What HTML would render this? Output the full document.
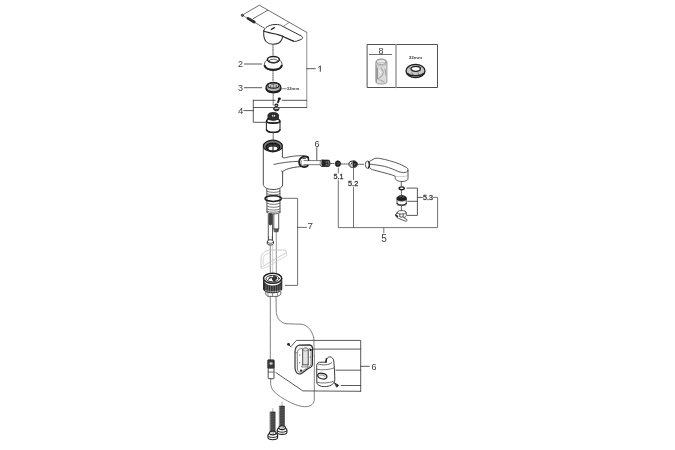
<!DOCTYPE html>
<html><head><meta charset="utf-8">
<style>
html,body{margin:0;padding:0;background:#fff;width:675px;height:450px;overflow:hidden}
svg{display:block;will-change:transform}
text{font-family:"Liberation Sans",sans-serif;fill:#3a3a3a}
</style></head>
<body>
<svg width="675" height="450" viewBox="0 0 675 450">
<g fill="none" stroke="#3c3c3c" stroke-width="0.85" stroke-linecap="round" stroke-linejoin="round">

<!-- ===== Part 1 handle ===== -->
<circle cx="242.4" cy="15.3" r="1.1" fill="#888" stroke="#222" stroke-width="0.9"/>
<path d="M243.6 16.1 L247.3 18.2" stroke="#555" stroke-width="0.7"/>
<path d="M243.8 14.2 L259.3 5.2 L306.8 32.4" stroke="#555"/>
<path d="M306.8 32.4 L306.8 107.4" stroke="#858585" stroke-width="0.9"/>
<path d="M253.1 18.7 L267.8 10.2" stroke="#555"/>
<path d="M248 18.4 L254.2 22" stroke="#222" stroke-width="2.7"/>
<path d="M248.5 18.3 L253.5 21.3" stroke="#555" stroke-width="0.5" stroke-dasharray="0.6 0.6"/>
<path d="M254.4 22.2 L264.7 28.4" stroke-dasharray="1.5 1"/>
<!-- handle body -->
<path d="M263.6 31 C264.5 27.5 269 24.8 275 24.5 C278.5 24.4 280.5 25 281.7 25.8 L301.3 36 C303 37 302.9 38.4 301.3 39.4 L296.5 41.2 C295.3 41.6 294.3 41.5 293.3 41.1" stroke="#333" stroke-width="1"/>
<path d="M263.6 31 C267 32.5 273 33.3 280.2 35.3 L293.3 41.1" stroke="#222" stroke-width="1.2"/>
<path d="M263.8 31.5 C263.4 35.5 264 39 266 41.5 C268 43.5 270.5 44.3 273 44.3 C277 44.2 280.8 42.2 282 39 C282.5 37.5 282.6 36.5 282.4 35.8" stroke="#333" stroke-width="1.05"/>
<path d="M271.3 29.5 L274.3 27.6" stroke="#222" stroke-width="1.3"/>
<path d="M283.3 26.5 L288.9 22.6" stroke="#666" stroke-width="0.7"/>
<path d="M273 45 L273 56" stroke-dasharray="1.2 1"/>

<!-- ===== Part 2 ring ===== -->
<path d="M267.5 59.5 C265.5 60.8 264.4 62.5 264.4 64.5 C264.6 68 268 70.2 273.2 70.2 C278.4 70.2 281.8 68 282 64.5 C282 62.5 281 60.8 279 59.5"/>
<path d="M264.7 65.8 C265.5 68.4 269 69.8 273.2 69.8 C277.4 69.8 280.9 68.4 281.7 65.8" stroke="#1e1e1e" stroke-width="2.2"/>
<ellipse cx="273.4" cy="59.6" rx="6" ry="3.1" stroke="#1e1e1e" stroke-width="1.5"/>
<ellipse cx="273.3" cy="61" rx="4.2" ry="1.8" stroke="#444" stroke-width="0.8"/>
<path d="M273 70.5 L273 81" stroke-dasharray="1.2 1"/>

<!-- ===== Part 3 ring ===== -->
<path d="M266 87.5 C266 90.8 269 92.6 273.4 92.6 C277.8 92.6 280.9 90.8 280.9 87.5 C280.9 84.5 277.8 82.3 273.4 82.3 C269 82.3 266 84.5 266 87.5 Z" fill="#9a9a9a" stroke="#1e1e1e" stroke-width="1.3"/>
<path d="M266.5 88.8 C267.5 91.3 270 92.2 273.4 92.2 C276.8 92.2 279.5 91.3 280.4 88.8" stroke="#1e1e1e" stroke-width="2"/>
<ellipse cx="273.4" cy="85.6" rx="5.6" ry="2.6" fill="#d0d0d0" stroke="#222" stroke-width="1.1"/>
<ellipse cx="273.4" cy="86" rx="3.2" ry="1.4" fill="#f4f4f4" stroke="#444" stroke-width="0.7"/>
<path d="M273.3 84.3 L273.3 87.5" stroke="#444" stroke-width="0.7"/>
<path d="M267.5 89 C269.5 90.2 277 90.2 279.3 89" stroke="#ddd" stroke-width="0.7"/>
<path d="M281.5 88.7 L286.3 88.7" stroke="#777"/>


<!-- ===== Part 4 ===== -->
<path d="M273.2 92.8 L273.2 105.3" stroke="#444" stroke-width="0.8" stroke-dasharray="1.2 1"/>
<path d="M279.3 98.8 L278 102.3" stroke="#1e1e1e" stroke-width="1.9" stroke-dasharray="0.9 0.5"/>
<ellipse cx="279.3" cy="98.8" rx="1.6" ry="1.3" fill="#1e1e1e" stroke="none"/>
<ellipse cx="276.4" cy="105.2" rx="1.5" ry="1.1" stroke="#1e1e1e" stroke-width="1.1"/>
<path d="M273.8 108 L275 106.9 L277.8 106.9 L279 108.2 L278.5 110.2 L276.8 110.8 L274.8 110.6 L273.8 109.5 Z" fill="#444" stroke="#1e1e1e" stroke-width="1"/>
<path d="M275.2 108.3 L278 108.3" stroke="#fff" stroke-width="0.9"/>
<!-- cartridge -->
<path d="M266.4 121 L266.4 130.6 C266.8 132 269.5 132.6 273.2 132.6 C276.9 132.6 279.6 132 280 130.6 L280 121" stroke="#1e1e1e" stroke-width="1"/>
<path d="M266.6 129.8 C267.5 131.8 270 132.3 273.2 132.3 C276.4 132.3 279 131.8 279.8 129.8" stroke="#1e1e1e" stroke-width="1.5"/>
<path d="M266.5 121.3 C266.5 119.5 269.5 118.5 273.2 118.5 C276.9 118.5 279.9 119.5 279.9 121.3 C279.9 122.6 276.9 123.3 273.2 123.3 C269.5 123.3 266.5 122.6 266.5 121.3 Z" fill="#fff" stroke="#1e1e1e" stroke-width="1.4"/>
<path d="M266.8 122 C268.5 123.3 278 123.3 279.6 122" stroke="#1e1e1e" stroke-width="1.4"/>
<path d="M268 118.5 L268 114.8 C268.5 113.3 270.5 112.6 273.2 112.6 C275.9 112.6 277.9 113.3 278.4 114.8 L278.4 118.5 C277.5 120 275.5 120.6 273.2 120.6 C270.9 120.6 268.9 120 268 118.5 Z" fill="#2e2e2e" stroke="#1e1e1e" stroke-width="0.9"/>
<ellipse cx="273.6" cy="115.8" rx="1.8" ry="1.1" fill="#ddd" stroke="none"/>
<path d="M273.5 114.6 L273.5 117.2" stroke="#333" stroke-width="0.7"/>
<path d="M269.5 120.5 C271 121.7 275.5 121.7 277 120.5" stroke="#eee" stroke-width="0.8"/>
<path d="M273.2 132.8 L273.2 139.8" stroke="#555"/>

<!-- bracket 1 / 4 lines -->
<path d="M253.3 100.3 L275.3 100.3 M282.3 100.3 L306.7 100.3"/>
<path d="M253.3 107.5 L273.5 107.5 M279 107.5 L306.7 107.5"/>
<path d="M253.3 100.3 L253.3 122.3 L266 122.3"/>
<path d="M243.8 110.6 L253.3 110.6"/>
<path d="M244.3 64 L261.7 64"/>
<path d="M244.3 87.7 L261.7 87.7"/>
<path d="M306.7 68.7 L315.3 68.7"/>

<!-- ===== Faucet body ===== -->
<path d="M263.3 146.5 L263.3 184.4 C263.8 187.8 268 189.5 273 189.5 C278 189.5 282.2 187.8 282.6 185 L282.6 172 C282.4 171.2 282 170.8 281.5 171 M282.6 171.6 C285 169.5 290 167.5 300.7 166.6 M282.4 157 L282.4 146.5" stroke="#383838" stroke-width="0.9"/>
<path d="M282.3 156.5 C282.5 157.8 283.5 158.2 285 157.8 C290 156.5 296 155.6 304.2 155.6"/>
<path d="M274 164.4 C281 162.8 290 161.5 299 161.3"/>
<ellipse cx="272.85" cy="146" rx="9.5" ry="5.8" fill="#777" stroke="#1e1e1e" stroke-width="1.2"/>
<ellipse cx="272.9" cy="147" rx="6.9" ry="3.9" fill="#333" stroke="#151515" stroke-width="1.2"/>
<ellipse cx="273" cy="148.4" rx="4.4" ry="1.9" fill="#fff" stroke="none"/>
<path d="M273 144.5 L273 150.5" stroke="#222" stroke-width="1.1"/>
<path d="M304 160.6 L320.5 160.6 M304 164.7 L320.5 164.7" stroke="#555" stroke-width="0.8"/>
<path d="M308 157.3 C306 156 302 156.3 300.2 158.8 C298.6 161 298.8 164.3 300.8 166 C302.8 167.4 306 167.3 307.8 165.6" stroke="#1e1e1e" stroke-width="1.9"/>
<path d="M308.2 157.5 L308.6 160.2" stroke="#1e1e1e" stroke-width="1.5"/>
<path d="M302.5 158.3 L305.5 158.6 M302.5 166 L305.3 165.8" stroke="#333" stroke-width="0.9"/>
<path d="M301.5 160.8 C301 162 301 163.3 301.6 164.5" stroke="#555" stroke-width="0.7"/>
<path d="M316.8 147.5 L316.8 160"/>
<!-- neck & threads -->
<path d="M266.8 188.8 L267 212.5 M279.9 188.8 L280 212.5 M267 212.5 C269 214.5 278 214.5 280 212.5"/>
<path d="M267 191.3 C270 192.8 277 192.8 280 191.3 M267 193.8 C270 195.3 277 195.3 280 193.8 M267 203.3 C270 204.8 277 204.8 280 203.3 M267 206.2 C270 207.7 277 207.7 280 206.2 M267 209 C270 210.5 277 210.5 280 209 M267 211.3 C270 212.6 277 212.6 280 211.3" stroke="#4a4a4a" stroke-width="0.75"/>
<ellipse cx="273.2" cy="198.6" rx="8.2" ry="2.8" stroke="#1e1e1e" stroke-width="1.5"/>
<!-- rods -->
<path d="M268.3 214.5 L268.3 240 M272.5 214.5 L272.5 240"/>
<path d="M270.4 214.5 L270.4 223.6" stroke="#444" stroke-width="3.6" stroke-dasharray="0.9 0.6"/>
<path d="M273.8 214 L273.8 229 M278.7 214 L278.7 229 M273.8 229 L278.7 229"/>
<rect x="274.4" y="229.2" width="3.8" height="2.6" fill="#555" stroke="#333" stroke-width="0.6"/>
<path d="M268.6 236.5 L268.6 239.5 M272.3 236.5 L272.3 239.5" stroke="#444" stroke-width="0.7"/>
<path d="M267.3 241.5 C267.3 240.3 268.8 239.8 270.3 239.8 C271.8 239.8 273.4 240.3 273.4 241.5 L273.4 243.6 C273.2 244.6 272 245 270.3 245 C268.6 245 267.5 244.6 267.3 243.6 Z" fill="#fff" stroke="#1e1e1e" stroke-width="1"/>
<path d="M268.3 242.8 C269.5 243.6 271.5 243.6 272.5 242.6" stroke="#333" stroke-width="0.8"/>
<path d="M270.3 245.8 L270.3 273.5" stroke="#555" stroke-width="0.7"/>
<path d="M272.7 245.8 L272.7 273.5" stroke="#999" stroke-width="0.5" stroke-dasharray="2 1"/>
<path d="M276.3 232 L276.3 273.5" stroke="#666" stroke-width="0.7" stroke-dasharray="3 0.8"/>
<!-- faint bracket piece -->
<path d="M261 267 L261 259 C261 254 264.5 250.5 270 250 L285.5 250 L286.5 252.5 L271 261.5 L262 267 Z" stroke="#c0c0c0" stroke-width="0.8"/>
<path d="M263.2 264.5 L263.2 259 C263.5 255.5 266 253.2 270 252.8 M286.5 252.5 L286.8 255.5 L271.5 264.5 L262 269 L261 267" stroke="#c8c8c8" stroke-width="0.7"/>
<!-- nut part 7 -->
<path d="M263.5 279 L263.5 289 C264 291.5 267.5 292.8 272.6 292.8 C277.7 292.8 281.3 291.5 281.8 289 L281.8 279" fill="#2e2e2e" stroke="#1e1e1e" stroke-width="0.9"/>
<path d="M263.8 280.5 C265 284.5 269 285.5 272.6 285.5 C276.2 285.5 280.3 284.5 281.5 280.5 L281.5 278 L263.8 278 Z" fill="#fff" stroke="none"/>
<path d="M266 285 L266 291 M268.3 285.8 L268.3 292 M270.6 286 L270.6 292.3 M273 286 L273 292.5 M275.4 286 L275.4 292.3 M277.7 285.8 L277.7 292 M280 285 L280 291" stroke="#8a8a8a" stroke-width="0.7"/>
<ellipse cx="272.6" cy="278.3" rx="9.1" ry="5" fill="#fff" stroke="#1e1e1e" stroke-width="1.5"/>
<ellipse cx="272.6" cy="278.6" rx="6.6" ry="3.2" stroke="#2a2a2a" stroke-width="1"/>
<path d="M268.5 279.5 C269.5 277 271 276.5 272 277.8 L273 280.5 C274.5 281 276.5 280 277 278 C276 276.5 274 276.3 273 277" fill="#333" stroke="#222" stroke-width="0.9"/>
<path d="M265.8 292 L265.8 294.5 L268 296.4 L277.5 296.4 L280.8 294.5 L280.8 292" stroke="#444" stroke-width="0.8"/>
<path d="M268 293 L268 296.3 M272.5 293.2 L272.5 296.3 M277.5 293 L277.5 296.3" stroke="#555" stroke-width="0.6"/>
<path d="M265.5 290.5 C268 291.8 277 291.8 281 290.5" stroke="#ddd" stroke-width="0.6" stroke-dasharray="1 1"/>
<!-- bracket 7 -->
<path d="M281.3 198.3 L297.6 198.3 L297.6 285.4 L285.3 285.4 M297.6 227.4 L306.5 227.4" stroke="#555"/>

<!-- ===== hose connectors & shower ===== -->
<rect x="320.3" y="160.1" width="9.6" height="6.4" rx="1.8" fill="#262626" stroke="#1e1e1e" stroke-width="0.8"/>
<path d="M321.2 161 C320.6 162.3 320.6 164.5 321.2 165.6" stroke="#e8e8e8" stroke-width="1.1"/>
<ellipse cx="326.7" cy="162" rx="1" ry="0.8" fill="#e0e0e0"/>
<ellipse cx="326.7" cy="164.8" rx="1" ry="0.8" fill="#d8d8d8"/>
<path d="M328.3 161.3 C329.2 162.3 329.2 164.5 328.3 165.4" stroke="#bbb" stroke-width="0.6"/>
<path d="M330.5 163.5 L333.8 163.5 M341.5 164 L348.5 164 M358 164.3 L364 164.3" stroke-dasharray="1.2 1"/>
<ellipse cx="337.9" cy="163.7" rx="2.7" ry="2.9" fill="#222" stroke="#1e1e1e" stroke-width="0.7"/>
<ellipse cx="338.2" cy="163.5" rx="0.9" ry="1.1" stroke="#666" stroke-width="0.5"/>
<path d="M352.5 161 C350 161 348.9 162.5 348.9 164.1 C348.9 165.8 350 167.3 352.5 167.3 L354.5 167.3 C356.3 167.3 357.3 165.8 357.3 164.1 C357.3 162.5 356.3 161 354.5 161 Z" fill="#fff" stroke="#1e1e1e" stroke-width="1"/>
<path d="M353.3 161.3 C355.8 161.2 357 162.5 357 164.1 C357 165.8 355.8 167 353.3 167 C352.6 166 352.6 162.3 353.3 161.3 Z" fill="#1e1e1e" stroke="#1e1e1e" stroke-width="0.6"/>
<path d="M350.6 165.2 L352 162.5" stroke="#333" stroke-width="0.9"/>
<ellipse cx="354.8" cy="164.3" rx="0.8" ry="1" fill="#999"/>
<path d="M338.3 168 L338.3 173 M338.3 180.5 L338.3 227.6 L437.6 227.6 L437.6 197.4 L433.5 197.4 M353.5 168 L353.5 179.5 M353.5 187.5 L353.5 227.6 M383.8 227.6 L383.8 232.8" stroke="#5a5a5a"/>
<!-- shower head -->
<ellipse cx="367.5" cy="164.7" rx="2.1" ry="3.6" stroke="#333"/>
<path d="M368.6 161.5 C369.5 163 369.6 166.5 368.6 168" stroke="#1e1e1e" stroke-width="1.3"/>
<path d="M369.6 161.4 L374.8 158.4 C376.5 158.1 378 158.2 379.4 158.4 C386 159.5 393 161.5 399.8 164.1 L406.6 167.5 C407.8 168.3 408 169 408 170.5 L408 177.7 C408 179.5 407.5 180.3 406.6 180.6 C405 181.3 403.5 181.5 402 181.5 C400 181.4 398.5 181.2 397.5 180.7 C396 180 395.2 179 395.2 177.7 L395.2 176.2 C393 175.2 391 174.6 388.4 173.9 L372.6 169.7 C371.2 169.2 370.3 168.6 369.6 167.9"/>
<path d="M369.6 164.1 C375 164.6 380 165.5 384.7 166.4 C390 167.8 395 170 399 171.8 C402 172.8 405 172.6 406.6 172 C407.5 171.5 408 170.8 408 170.3"/>
<path d="M395.2 176.2 C399 177 404 177 408 175.5" stroke="#999" stroke-width="0.5"/>
<path d="M401.3 181.8 L401.3 186" stroke-dasharray="1 0.8"/>
<!-- 5.3 -->
<ellipse cx="401.7" cy="188.3" rx="2.6" ry="1.4" stroke="#1e1e1e" stroke-width="1.4"/>
<path d="M401.4 190.3 L401.4 195" stroke-dasharray="1 0.8"/>
<path d="M397 198 L397 204.3 C397.8 206 405.5 206 406.3 204.3 L406.3 198"/>
<path d="M397.2 203.5 C398.5 205.5 405 205.5 406.1 203.5" stroke="#222" stroke-width="1.2"/>
<path d="M397 198.5 C397 196.5 399 195.6 401.6 195.6 C404.2 195.6 406.3 196.5 406.3 198.5 L406.3 199.3 C406 200.5 404 201 401.6 201 C399.2 201 397.2 200.5 397 199.3 Z" fill="#1e1e1e" stroke="#1e1e1e" stroke-width="0.8"/>
<path d="M399.5 197 L401.5 196.5 M402.5 197.3 L404 197" stroke="#888" stroke-width="0.6"/>
<path d="M401.4 206.3 L401.4 210.5" stroke-dasharray="1 0.8"/>
<path d="M397 213 C397 211.3 398.5 210.6 401.5 210.6 C404.5 210.6 406.3 211.3 406.3 213 L406.3 215.5 C406 216.8 405 217.3 403.5 217.5 L406.8 219.5 C407.5 220.3 407 221.3 405.5 221.2 L400 219 C397.5 218 396 217 395.5 215.5 C395.2 214.5 396 213.5 397 213 Z"/>
<path d="M397 213 C398.5 214.5 404.5 214.5 406.3 213"/>
<path d="M399.8 214.5 L399.8 216.8 C400.5 217.3 402.5 217.3 403.2 216.8 L403.2 214.5" stroke="#333" stroke-width="0.9"/>
<path d="M396 215 L397.5 216.5" stroke="#222" stroke-width="1.5"/>
<path d="M406.8 188.1 L417.4 188.1 L417.4 215.4 L407.3 215.4 M407.7 201.3 L417.4 201.3 M417.4 197.4 L422.3 197.4"/>
<!-- ===== lower hose & wall bracket ===== -->
<path d="M270.3 296.5 L270.3 360" stroke="#555" stroke-width="0.75" stroke-dasharray="6 0.8"/>
<path d="M276 296.5 L276.3 312 C276.8 319 281 323.3 287 323.8 L301 324.2 C308 324.8 312.3 331 313.8 338.5 L314.3 356" stroke="#555" stroke-width="0.75" stroke-dasharray="5 0.8"/>
<path d="M314.3 356 L314.3 399 C314.2 403.5 311.5 406.8 305 406.7 C298 406.5 290 402.8 280.5 396.8 C274 392.5 270.7 388.5 270.7 383.5 L270.7 378.7" stroke="#555" stroke-width="0.75" stroke-dasharray="5 0.8"/>
<rect x="268.2" y="360" width="5.8" height="18.7" rx="0.6" stroke="#333"/>
<rect x="268.2" y="360.2" width="5.8" height="7.8" fill="#3a3a3a" stroke="#222" stroke-width="0.8"/>
<ellipse cx="271.1" cy="363.5" rx="1.6" ry="1.2" fill="#ccc" stroke="none"/>
<path d="M268.3 368 L274 368 M268.3 372 L274 372" stroke="#444" stroke-width="0.8"/>

<path d="M276 372.7 L302.9 390.9 L360.7 391.3"/>
<!-- screw top-left -->
<path d="M291.5 346 L296.4 340.4 L360.7 340.4 L360.7 391.3"/>
<path d="M311 349.1 L360.7 349.1 M336 370.2 L360.7 370.2 M341.1 385.5 L360.7 385.5 M360.7 366.3 L369.3 366.3"/>
<!-- wall bracket left -->
<path d="M295 352 C295 348.5 296.5 346 299.3 345.1 L309.5 344.9 C311.5 345.2 312.5 346.5 312.5 348.5 L312.4 364.5 C312.2 366.5 311 367.5 308.6 368.2 L301.5 373.5 C299.5 374.5 297 373.8 296.2 372 C295.4 370.8 295 369.5 295 368 Z" fill="#f2f2f2" stroke="#2a2a2a" stroke-width="1.1"/>
<path d="M297.3 353 C297.3 350.5 298.5 349 300.5 348.6 L302.5 348.4 L302.7 364.5 L308.2 364.5 L308.2 349.3 L309.8 348.8 C310.8 349 311 349.8 311 350.5 L311 364 C310.8 365.8 309.8 366.6 308.3 367 L301.3 371.8 C299.8 372.5 298.2 372 297.6 370.5 Z" fill="#fff" stroke="#555" stroke-width="0.7"/>
<path d="M302.7 364.5 L302.7 350 C303.2 348.5 304.5 347.9 305.5 347.9 C306.8 347.9 308 348.5 308.2 349.8 L308.2 364.5 Z" fill="#e4e4e4" stroke="#444" stroke-width="0.8"/>
<path d="M302.7 350.3 C304 351.2 307 351.2 308.2 350.3" stroke="#666" stroke-width="0.6"/>
<path d="M302.7 364.5 L301.5 367 L307.5 366.8 L308.2 364.5" stroke="#555" stroke-width="0.7"/>
<path d="M297.3 353 L295.2 352" stroke="#555" stroke-width="0.6"/>
<circle cx="310.6" cy="349.9" r="1.15" fill="#1e1e1e" stroke="none"/>
<circle cx="301" cy="370.6" r="1.05" fill="#1e1e1e" stroke="none"/>
<circle cx="299.7" cy="355" r="0.6" fill="#444" stroke="none"/><circle cx="299.7" cy="362.8" r="0.6" fill="#444" stroke="none"/><circle cx="310.2" cy="357" r="0.6" fill="#444" stroke="none"/>
<!-- clip right -->
<path d="M316.7 367 L316.7 365.3 C317 363.5 318 362.5 319.5 362.2 L326 362.2 C326.1 360 326.8 358 328.7 357.1 C330 356.7 331 356.9 331.8 357.6 C333 358.5 333.6 359.5 333.8 361 L334.6 372 L334.8 379.9 C334.6 383.5 331.5 385.8 326.5 386.5 C321.5 387 317.4 385.5 316.9 383.3 Z" stroke="#333" stroke-width="0.95"/>
<path d="M326.5 358.6 C326.1 359.8 326 361 326 362.2" stroke="#1e1e1e" stroke-width="1.4"/>
<path d="M318 364 C320 364.8 323 365 325.1 364.9 C328 364.7 330.5 363.8 331.8 362.7" stroke="#444" stroke-width="0.8"/>
<path d="M316.7 369.3 C321 370.3 330 369.8 333.9 368" stroke="#555" stroke-width="0.8"/>
<path d="M317.2 382.3 C321 383.5 329 383.3 333.5 381.3" stroke="#555" stroke-width="0.8"/>
<path d="M317.8 374.6 C318.3 373.2 321 372.9 323.8 373.6 C326.3 374.3 327.2 375.8 326.8 377.6 C326.2 379 323.3 379.2 320.8 378.5 C318.8 377.8 317.5 376.2 317.8 374.6 Z" stroke="#1e1e1e" stroke-width="1.2"/>
<path d="M319.8 375 C321.8 374.5 324.5 375.2 325.2 376.7" stroke="#666" stroke-width="0.8"/>
<path d="M334.8 383.2 L338.6 385.2 L337 387 Z" fill="#1e1e1e" stroke="#1e1e1e" stroke-width="0.8"/>
<path d="M334.6 382.8 L335.8 384" stroke="#333" stroke-width="0.6"/>
<circle cx="288.5" cy="344.3" r="1.4" fill="#1e1e1e" stroke="none"/>
<path d="M288.8 344.8 L291 346.8" stroke="#333" stroke-width="1"/>
<!-- bolts -->
<path d="M272.8 408.7 L272.8 411.9" stroke="#777" stroke-width="0.6"/>
<rect x="270.40000000000003" y="411.9" width="4.8" height="19.30000000000001" fill="#3a3a3a" stroke="#2a2a2a" stroke-width="0.5"/>
<path d="M271.00000000000006 413.1 L274.59999999999997 413.9 M271.00000000000006 414.7 L274.59999999999997 415.5 M271.00000000000006 416.3 L274.59999999999997 417.1 M271.00000000000006 417.9 L274.59999999999997 418.7 M271.00000000000006 419.5 L274.59999999999997 420.3 M271.00000000000006 421.1 L274.59999999999997 421.9 M271.00000000000006 422.7 L274.59999999999997 423.5 M271.00000000000006 424.3 L274.59999999999997 425.1 M271.00000000000006 425.9 L274.59999999999997 426.7 M271.00000000000006 427.5 L274.59999999999997 428.3 M271.00000000000006 429.1 L274.59999999999997 429.9 " stroke="#8a8a8a" stroke-width="0.35"/>
<path d="M268.0 435.2 C268.0 433.8 270.0 433.0 272.8 433.0 C275.6 433.0 277.6 433.8 277.6 435.2 L277.6 437.5 C277.5 439.0 275.5 439.7 272.8 439.7 C270.1 439.7 268.1 439.0 268.0 437.5 Z" fill="#fff" stroke="#1e1e1e" stroke-width="1.1"/>
<path d="M268.2 436.2 C269.2 438.0 276.40000000000003 438.0 277.40000000000003 436.2" stroke="#1e1e1e" stroke-width="1"/>
<path d="M269.40000000000003 433.09999999999997 C269.40000000000003 432.0 271.0 431.3 272.8 431.3 C274.6 431.3 276.2 432.0 276.2 433.09999999999997 C276.2 434.2 274.6 434.9 272.8 434.9 C271.0 434.9 269.40000000000003 434.2 269.40000000000003 433.09999999999997 Z" fill="#fff" stroke="#1e1e1e" stroke-width="1.1"/>
<ellipse cx="272.8" cy="432.8" rx="1.3" ry="0.9" fill="#f0f0f0" stroke="#555" stroke-width="0.4"/>
<path d="M282.1 402.3 L282.1 406" stroke="#777" stroke-width="0.6"/>
<rect x="279.70000000000005" y="406" width="4.8" height="19.899999999999977" fill="#3a3a3a" stroke="#2a2a2a" stroke-width="0.5"/>
<path d="M280.30000000000007 407.2 L283.9 408.0 M280.30000000000007 408.8 L283.9 409.6 M280.30000000000007 410.4 L283.9 411.2 M280.30000000000007 412.0 L283.9 412.8 M280.30000000000007 413.6 L283.9 414.4 M280.30000000000007 415.2 L283.9 416.0 M280.30000000000007 416.8 L283.9 417.6 M280.30000000000007 418.4 L283.9 419.2 M280.30000000000007 420.0 L283.9 420.8 M280.30000000000007 421.6 L283.9 422.4 M280.30000000000007 423.2 L283.9 424.0 M280.30000000000007 424.8 L283.9 425.6 " stroke="#8a8a8a" stroke-width="0.35"/>
<path d="M277.3 429.9 C277.3 428.5 279.3 427.7 282.1 427.7 C284.90000000000003 427.7 286.90000000000003 428.5 286.90000000000003 429.9 L286.90000000000003 432.2 C286.8 433.7 284.8 434.4 282.1 434.4 C279.40000000000003 434.4 277.40000000000003 433.7 277.3 432.2 Z" fill="#fff" stroke="#1e1e1e" stroke-width="1.1"/>
<path d="M277.5 430.9 C278.5 432.7 285.70000000000005 432.7 286.70000000000005 430.9" stroke="#1e1e1e" stroke-width="1"/>
<path d="M278.70000000000005 427.79999999999995 C278.70000000000005 426.7 280.3 426.0 282.1 426.0 C283.90000000000003 426.0 285.5 426.7 285.5 427.79999999999995 C285.5 428.9 283.90000000000003 429.59999999999997 282.1 429.59999999999997 C280.3 429.59999999999997 278.70000000000005 428.9 278.70000000000005 427.79999999999995 Z" fill="#fff" stroke="#1e1e1e" stroke-width="1.1"/>
<ellipse cx="282.1" cy="427.5" rx="1.3" ry="0.9" fill="#f0f0f0" stroke="#555" stroke-width="0.4"/>

<!-- ===== inset box ===== -->
<rect x="367.5" y="44.5" width="70" height="43" stroke="#505050" stroke-width="1"/>
<path d="M396 44.5 L396 87.5" stroke="#9a9a9a" stroke-width="1.5"/>
<path d="M369.3 54.5 L391.6 54.5" stroke="#555"/>
<path d="M375.8 62 C375.8 60 378.5 59 381.3 59 C384.1 59 386.9 60 386.9 62 L386.9 82 C386.9 83.5 384.1 84.1 381.3 84.1 C378.5 84.1 375.8 83.5 375.8 82 Z" fill="#dcdcdc" stroke="#888" stroke-width="0.8"/>
<ellipse cx="381.3" cy="62" rx="4.8" ry="2.4" fill="#f0f0f0" stroke="#888" stroke-width="0.8"/>
<ellipse cx="381.3" cy="64.2" rx="4.4" ry="1.8" stroke="#aaa" stroke-width="0.7"/>
<path d="M376.5 66 L376.5 82 M377.5 68 L377.5 79" stroke="#999" stroke-width="1"/>
<path d="M381 68 C383 70 384 72 382.5 75 C381 77.5 379 77 378.5 79 M385 69 L385.8 75 M380 80 L384 82" stroke="#aaa" stroke-width="1.2"/>
<path d="M379 71 C381 71 382 73 380.5 74" fill="#fafafa" stroke="none"/>
<path fill-rule="evenodd" fill="#c4c4c4" stroke="#1e1e1e" stroke-width="1.3" d="M406 71 A9.5 6.6 0 1 0 425 71 A9.5 6.6 0 1 0 406 71 Z M411 68.8 A4.7 2.5 0 1 0 420.4 68.8 A4.7 2.5 0 1 0 411 68.8 Z"/>
<path d="M407.5 73.5 C410 76.5 421 76.5 423.5 73.5" stroke="#222" stroke-width="1.4"/>
<path d="M409 70 C409.5 72.5 412 74 415.5 74 C419 74 421.5 72.5 422 70" stroke="#ccc" stroke-width="0.7"/>
<path d="M408.5 67 L410 68.5 M421 67 L420 68.5 M412 73 L413 75 M418 73 L419 75" stroke="#444" stroke-width="0.6"/>
</g>

<g>
<path d="M318.3 67.3 C319.3 66.9 320 66.4 320.3 65.8 L320.3 71.7" fill="none" stroke="#333" stroke-width="0.95"/>
<text x="238" y="67" font-size="9">2</text>
<text x="238" y="91.3" font-size="9">3</text>
<text x="238" y="114" font-size="9.6">4</text>
<text x="314.5" y="147" font-size="9">6</text>
<text x="333.5" y="179.3" font-size="7.2" stroke="#3a3a3a" stroke-width="0.3">5.1</text>
<text x="348" y="186" font-size="7.4" stroke="#3a3a3a" stroke-width="0.3">5.2</text>
<text x="423" y="200.1" font-size="7.2" stroke="#3a3a3a" stroke-width="0.3">5.3</text>
<text x="381.2" y="242" font-size="10">5</text>
<text x="307.6" y="228.9" font-size="9.8">7</text>
<text x="371.5" y="370" font-size="9">6</text>
<text x="378.5" y="54" font-size="9">8</text>
<text x="408.8" y="58.8" font-size="4.4" fill="#333" font-weight="bold" textLength="13.2" lengthAdjust="spacingAndGlyphs">32mm</text>
<text x="286.8" y="90.4" font-size="4.2" fill="#666" font-weight="bold" textLength="12.5" lengthAdjust="spacingAndGlyphs">32mm</text>
</g>
</svg>
</body></html>
